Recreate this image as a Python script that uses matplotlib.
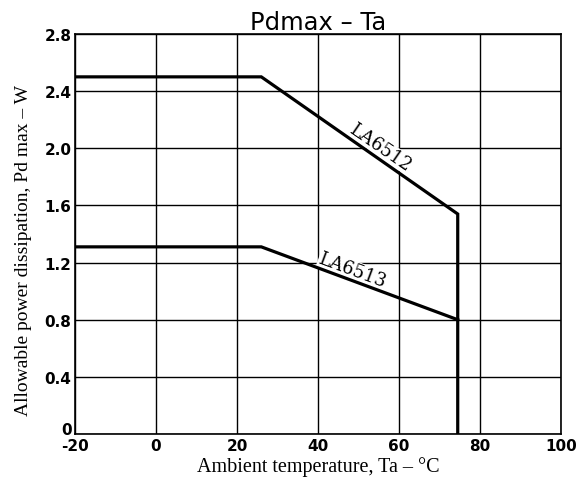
import matplotlib.pyplot as plt
from matplotlib.transforms import ScaledTranslation

plt.rcParams['axes.unicode_minus'] = False

# derating curves (Ta in degC, Pd in W)
ta_6512 = [-20, 26, 74.5, 74.5]
pd_6512 = [2.5, 2.5, 1.54, 0.0]
ta_6513 = [-20, 26, 74.5]
pd_6513 = [1.31, 1.31, 0.8]

x_ticks = [-20, 0, 20, 40, 60, 80, 100]
y_ticks = [0, 0.4, 0.8, 1.2, 1.6, 2.0, 2.4, 2.8]
y_labels = ['0', '0.4', '0.8', '1.2', '1.6', '2.0', '2.4', '2.8']

fig = plt.figure(figsize=(5.78, 4.85), dpi=100)
ax = fig.add_axes([75/578, 50/485, 486/578, 400/485])

ax.plot(ta_6512, pd_6512, color='k', lw=2.3, solid_joinstyle='miter', zorder=3)
ax.plot(ta_6513, pd_6513, color='k', lw=2.3, solid_joinstyle='miter', zorder=3)

ax.set_xlim(-20, 100)
ax.set_ylim(0, 2.8)
ax.set_xticks(x_ticks)
ax.set_yticks(y_ticks)
ax.set_yticklabels(y_labels)
ax.tick_params(length=0, labelsize=11)
ax.tick_params(axis='x', pad=3)
ax.tick_params(axis='y', pad=2.5)
for lb in ax.get_xticklabels() + ax.get_yticklabels():
	lb.set_fontweight('bold')
# the "0" of the y axis sits a little higher, above the "-20"
y0 = ax.get_yticklabels()[0]
y0.set_transform(y0.get_transform() + ScaledTranslation(0, 4/72, fig.dpi_scale_trans))
ax.grid(True, color='k', lw=1.0)
ax.set_axisbelow(True)
for s in ax.spines.values():
	s.set_linewidth(1.2)

# curve labels, sitting just on top of each line (white box hides the grid only)
ax.text(55.4, 2.01, 'LA6512', rotation=-34.5, ha='center', va='center',
		family='DejaVu Serif', fontsize=13, zorder=2,
		bbox=dict(facecolor='white', edgecolor='none', pad=0.3))
ax.text(48.5, 1.15, 'LA6513', rotation=-20.4, ha='center', va='center',
		family='DejaVu Serif', fontsize=13, zorder=2,
		bbox=dict(facecolor='white', edgecolor='none', pad=0.3))

ax.set_title('Pdmax \u2013 Ta', fontsize=17.5, pad=3)
ax.set_xlabel('Ambient temperature, Ta \u2013 \u00b0C', family='Liberation Serif', fontsize=14.5)
ax.set_ylabel('Allowable power dissipation, Pd max \u2013 W', family='Liberation Serif', fontsize=14)
ax.xaxis.set_label_coords(0.5, -0.055)
ax.yaxis.set_label_coords(-0.088, 0.46)

fig.savefig('out.png', dpi=100)
